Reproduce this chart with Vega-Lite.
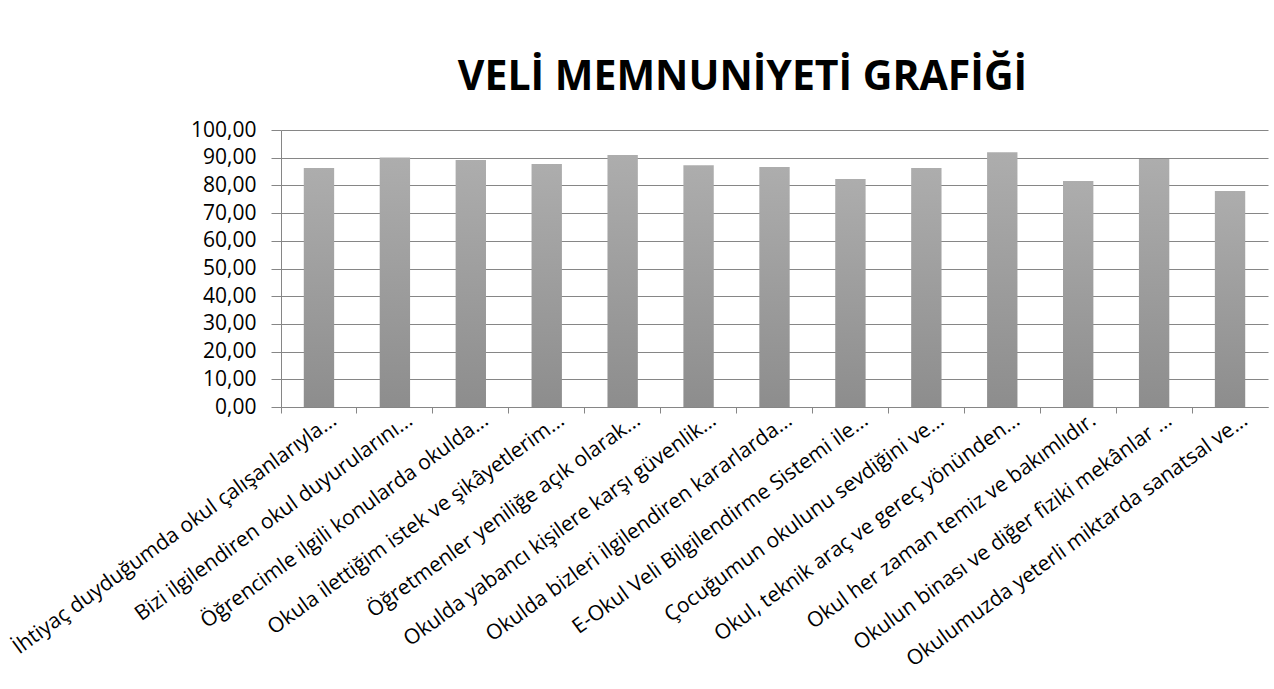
{
  "$schema": "https://vega.github.io/schema/vega-lite/v6.json",
  "width": 987,
  "height": 277,
  "autosize": {"type": "none"},
  "padding": {"left": 281, "top": 130, "right": 6, "bottom": 282},
  "background": "#ffffff",
  "title": {
    "text": "VELİ MEMNUNİYETİ GRAFİĞİ",
    "font": "Open Sans",
    "fontSize": 41,
    "fontWeight": "bold",
    "color": "#000000",
    "anchor": "middle",
    "offset": 20,
    "dx": -32
  },
  "data": {
    "values": [
      {"soru": "İhtiyaç duyduğumda okul çalışanlarıyla...", "puan": 86.3},
      {"soru": "Bizi ilgilendiren okul duyurularını...", "puan": 90.1},
      {"soru": "Öğrencimle ilgili konularda okulda...", "puan": 89.2},
      {"soru": "Okula ilettiğim istek ve şikâyetlerim...", "puan": 87.7},
      {"soru": "Öğretmenler yeniliğe açık olarak...", "puan": 91.0},
      {"soru": "Okulda yabancı kişilere karşı güvenlik...", "puan": 87.3},
      {"soru": "Okulda bizleri ilgilendiren kararlarda...", "puan": 86.6},
      {"soru": "E-Okul Veli Bilgilendirme Sistemi ile...", "puan": 82.3},
      {"soru": "Çocuğumun okulunu sevdiğini ve...", "puan": 86.3},
      {"soru": "Okul, teknik araç ve gereç yönünden...", "puan": 92.0},
      {"soru": "Okul her zaman temiz ve bakımlıdır.", "puan": 81.6},
      {"soru": "Okulun binası ve diğer fiziki mekânlar ...", "puan": 89.5},
      {"soru": "Okulumuzda yeterli miktarda sanatsal ve...", "puan": 78.0}
    ]
  },
  "mark": {
    "type": "bar",
    "color": {
      "gradient": "linear",
      "x1": 0, "y1": 0, "x2": 0, "y2": 1,
      "stops": [
        {"offset": 0, "color": "#adadad"},
        {"offset": 1, "color": "#8d8d8d"}
      ]
    }
  },
  "encoding": {
    "x": {
      "field": "soru",
      "type": "nominal",
      "sort": null,
      "title": null,
      "scale": {"paddingInner": 0.6, "paddingOuter": 0.3},
      "axis": {
        "labelAngle": -36,
        "labelAlign": "right",
        "labelBaseline": "top",
        "labelFont": "Open Sans",
        "labelFontSize": 21,
        "labelColor": "#000000",
        "labelLimit": 700,
        "labelOffset": 9,
        "labelPadding": -4,
        "bandPosition": -0.75,
        "ticks": true,
        "tickSize": 6,
        "tickColor": "#868686",
        "domainColor": "#868686",
        "grid": false
      }
    },
    "y": {
      "field": "puan",
      "type": "quantitative",
      "title": null,
      "scale": {"domain": [0, 100], "nice": false},
      "axis": {
        "values": [0, 10, 20, 30, 40, 50, 60, 70, 80, 90, 100],
        "labelExpr": "replace(format(datum.value, '.2f'), '.', ',')",
        "labelFont": "Open Sans",
        "labelFontSize": 21,
        "labelColor": "#000000",
        "labelPadding": 15,
        "tickSize": 10,
        "tickColor": "#868686",
        "domainColor": "#868686",
        "gridColor": "#868686",
        "gridWidth": 1
      }
    }
  },
  "config": {
    "view": {"stroke": null}
  }
}
